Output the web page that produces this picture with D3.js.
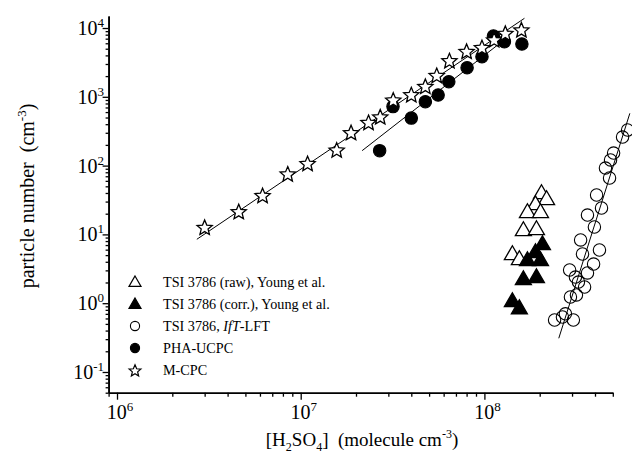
<!DOCTYPE html>
<html><head><meta charset="utf-8">
<script src="https://cdn.jsdelivr.net/npm/d3@7"></script>
<style>
body{margin:0;background:#fff;}
svg{font-family:"Liberation Serif","Times New Roman",serif;}
text{white-space:pre;}
</style>
</head><body>
<svg id="c" width="632" height="454"></svg>
<script>
// ---- data ----
const starX = [3.0e6,4.6e6,6.2e6,8.5e6,1.09e7,1.57e7,1.88e7,2.34e7,2.71e7,3.19e7,4.0e7,4.77e7,5.5e7,6.45e7,8.0e7,9.7e7,1.13e8,1.30e8,1.59e8];
const starY = [12.4,21,36,74,105,165,295,415,500,880,1050,1390,2000,3280,4480,5100,6600,8200,9200];
const phaX = [2.69e7,3.18e7,4.0e7,4.77e7,5.6e7,6.4e7,8.05e7,9.7e7,1.12e8,1.285e8,1.6e8];
const phaY = [165,720,490,850,1060,1660,2650,3830,7650,6300,5850];
const lftX = [6.02e8,5.65e8,5.05e8,4.86e8,4.56e8,4.80e8,4.08e8,4.34e8,3.64e8,3.97e8,3.34e8,4.23e8,3.42e8,3.93e8,2.91e8,3.13e8,3.64e8,3.25e8,3.51e8,2.94e8,3.17e8,2.41e8,2.66e8,3.05e8,2.76e8];
const lftY = [329,260,152,121,92,66,37.4,24.2,19.1,12.8,8.3,5.93,5.19,3.71,3.04,2.40,2.75,2.03,1.72,1.23,1.32,0.57,0.63,0.57,0.70];
const rawX = [2.045e8,2.18e8,1.897e8,1.715e8,2.02e8,1.63e8,1.92e8,1.42e8,1.55e8];
const rawY = [38.7,31.6,26.7,20.5,20.5,11.2,11.6,5.02,4.25];
const corrX = [2.07e8,1.897e8,1.715e8,2.02e8,1.63e8,1.92e8,1.42e8,1.55e8];
const corrY = [7.0,5.37,4.1,4.1,2.17,2.32,1.04,0.82];
// fit line endpoints
const fitStarX = [2.72e6,1.652e8], fitStarY = [8.49,13840];
const fitPhaX = [2.16e7,1.30e8], fitPhaY = [165,6920];
const fitLftX = [2.54e8,6.19e8], fitLftY = [0.309,575];
const xMajor = [6,7,8];
const yMajor = [-1,0,1,2,3,4];
const legendLabels = ["TSI 3786 (raw), Young et al.","TSI 3786 (corr.), Young et al.","TSI 3786, IfT-LFT","PHA-UCPC","M-CPC"];

// ---- scales ----
const xDom=[9e5,5e8], yDom=[0.05,15000];
const x = d3.scaleLog().domain(xDom).range([108.6,612.8]);
const y = d3.scaleLog().domain(yDom).range([392.7,15.9]);
const svg = d3.select("#c");

// minor ticks
const xMinor=[], yMinor=[];
for(let e=5;e<=8;e++) for(let m=2;m<=9;m++){const v=m*Math.pow(10,e); if(v>=xDom[0]&&v<=xDom[1]*1.001) xMinor.push(v);}
for(let e=-2;e<=4;e++) for(let m=2;m<=9;m++){const v=m*Math.pow(10,e); if(v>=yDom[0]&&v<=yDom[1]) yMinor.push(v);}

const ax0 = 392.7, ay0 = 108.6;
const gx = svg.append("g").attr("transform",`translate(0,${ax0})`);
gx.call(d3.axisBottom(x).tickValues(xMinor).tickSize(4).tickFormat("").tickSizeOuter(0));
gx.call(g=>g.append("g").call(d3.axisBottom(x).tickValues(xMajor.map(e=>Math.pow(10,e))).tickSize(7).tickFormat("").tickSizeOuter(0)));
const gy = svg.append("g").attr("transform",`translate(${ay0},0)`);
gy.call(d3.axisLeft(y).tickValues(yMinor).tickSize(3).tickFormat("").tickSizeOuter(0));
gy.call(g=>g.append("g").call(d3.axisLeft(y).tickValues(yMajor.map(e=>Math.pow(10,e))).tickSize(6).tickFormat("").tickSizeOuter(0)));
svg.selectAll(".domain").attr("stroke","#000").attr("stroke-width",1.6);
svg.selectAll(".tick line").attr("stroke","#000").attr("stroke-width",1.3);

// tick labels
xMajor.forEach(e=>{
  const t=svg.append("text").attr("x",x(Math.pow(10,e))+3).attr("y",419).attr("text-anchor","middle").attr("font-size",20);
  t.append("tspan").text("10");
  t.append("tspan").attr("dy",-8).attr("font-size",13).text(e);
});
yMajor.forEach(e=>{
  const t=svg.append("text").attr("x",104).attr("y",y(Math.pow(10,e))+7).attr("text-anchor","end").attr("font-size",20);
  t.append("tspan").text("10");
  t.append("tspan").attr("dy",-8).attr("font-size",13).text(e);
});

// axis titles
const xt=svg.append("text").attr("x",362).attr("y",446).attr("text-anchor","middle").attr("font-size",19);
xt.append("tspan").text("[H");
xt.append("tspan").attr("dy",5).attr("font-size",12).text("2");
xt.append("tspan").attr("dy",-5).text("SO");
xt.append("tspan").attr("dy",5).attr("font-size",12).text("4");
xt.append("tspan").attr("dy",-5).text("]  (molecule cm");
xt.append("tspan").attr("dy",-8).attr("font-size",12).text("-3");
xt.append("tspan").attr("dy",8).text(")");
const yt=svg.append("text").attr("transform","translate(34,196) rotate(-90)").attr("text-anchor","middle").attr("font-size",20);
yt.append("tspan").text("particle number  (cm");
yt.append("tspan").attr("dy",-8).attr("font-size",13).text("-3");
yt.append("tspan").attr("dy",8).text(")");

// fit lines
const line = d3.line().x(d=>x(d[0])).y(d=>y(d[1]));
[[fitStarX,fitStarY],[fitPhaX,fitPhaY],[fitLftX,fitLftY]].forEach(([fx,fy])=>{
  svg.append("path").attr("d",line(fx.map((v,i)=>[v,fy[i]]))).attr("fill","none").attr("stroke","#000").attr("stroke-width",1);
});

// marker generators
function starPath(R){const r=R*0.45;let p="";for(let i=0;i<10;i++){const a=-Math.PI/2+i*Math.PI/5;const rr=i%2?r:R;p+=(i?"L":"M")+(rr*Math.cos(a)).toFixed(2)+","+(rr*Math.sin(a)).toFixed(2);}return p+"Z";}
function triPath(s){const h=s*Math.sqrt(3)/2;return `M0,${-h*2/3}L${s/2},${h/3}L${-s/2},${h/3}Z`;}

function draw(xs,ys,kind,fill){
  const g=svg.append("g");
  xs.forEach((v,i)=>{
    const cx=x(v), cy=y(ys[i]);
    if(kind==="circle") g.append("circle").attr("cx",cx).attr("cy",cy).attr("r",6.2).attr("fill",fill).attr("stroke","#000").attr("stroke-width",1.1);
    else g.append("path").attr("d",kind==="star"?starPath(8):triPath(16)).attr("transform",`translate(${cx},${cy})`).attr("fill",fill).attr("stroke","#000").attr("stroke-width",1.3).attr("stroke-linejoin","miter");
  });
}
draw(lftX,lftY,"circle","none");
draw(rawX,rawY,"tri","#fff");
draw(corrX,corrY,"tri","#000");
draw(phaX,phaY,"circle","#000");
draw(starX,starY,"star","#fff");

// legend
const legKinds=[["tri","#fff"],["tri","#000"],["circle","#fff"],["circle","#000"],["star","#fff"]];
legendLabels.forEach((lab,i)=>{
  const ly=282+i*22;
  const [k,f]=legKinds[i];
  if(k==="circle") svg.append("circle").attr("cx",135).attr("cy",ly).attr("r",4.6).attr("fill",f).attr("stroke","#000").attr("stroke-width",1.1);
  else svg.append("path").attr("d",k==="star"?starPath(6.2):triPath(12)).attr("transform",`translate(135,${ly+1})`).attr("fill",f).attr("stroke","#000").attr("stroke-width",1.2);
  const t=svg.append("text").attr("x",163).attr("y",ly+5).attr("font-size",14.2);
  if(lab.indexOf("IfT")>=0){t.append("tspan").text("TSI 3786, ");t.append("tspan").attr("font-style","italic").text("IfT");t.append("tspan").text("-LFT");}
  else t.text(lab);
});
</script>
</body></html>
